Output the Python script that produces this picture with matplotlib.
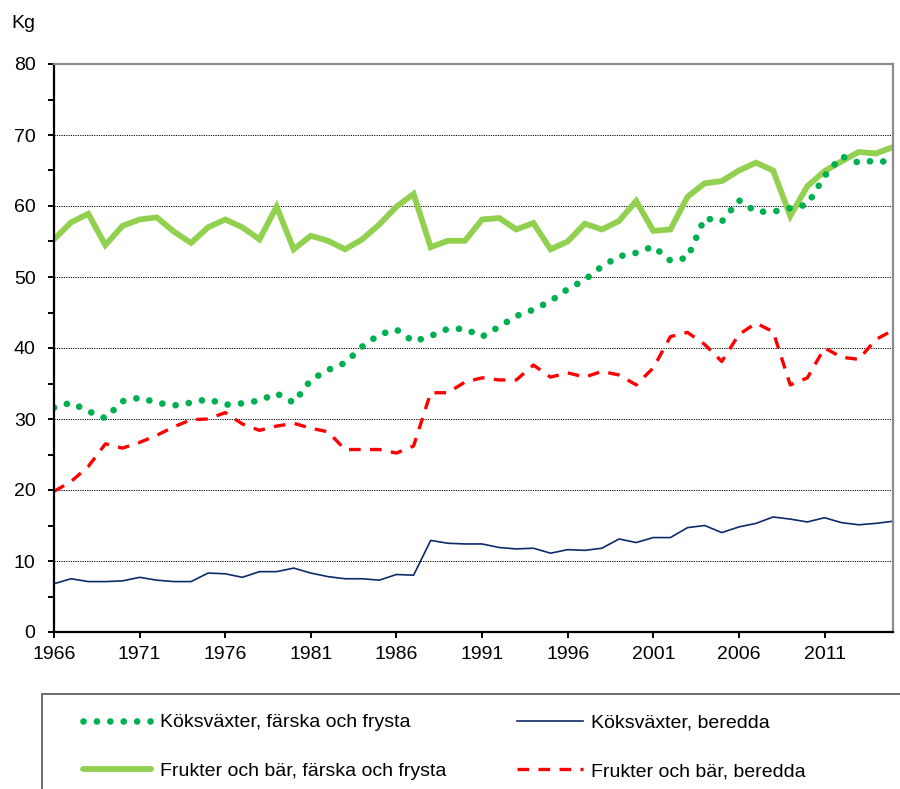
import matplotlib.pyplot as plt
import numpy as np
from matplotlib.patches import Rectangle
from matplotlib.ticker import MultipleLocator

plt.rcParams['font.family'] = ['Liberation Sans', 'DejaVu Sans']

years = np.arange(1966, 2016)

# Köksväxter, färska och frysta
kok_fresh = [31.6, 32.3, 31.1, 30.1, 32.5, 33.0, 32.3, 31.9, 32.3, 32.8,
             32.0, 32.2, 32.6, 33.6, 32.3, 35.5, 36.9, 37.9, 40.2, 41.9,
             42.6, 40.9, 41.7, 42.7, 42.7, 41.6, 43.0, 44.5, 45.4, 46.6,
             48.3, 49.6, 51.5, 52.9, 53.4, 54.3, 52.3, 52.7, 58.3, 57.8,
             60.8, 59.2, 59.2, 59.7, 60.2, 64.2, 67.0, 66.1, 66.4, 66.1]

# Köksväxter, beredda
kok_prep = [6.8, 7.5, 7.1, 7.1, 7.2, 7.7, 7.3, 7.1, 7.1, 8.3,
            8.2, 7.7, 8.5, 8.5, 9.0, 8.3, 7.8, 7.5, 7.5, 7.3,
            8.1, 8.0, 12.9, 12.5, 12.4, 12.4, 11.9, 11.7, 11.8, 11.1,
            11.6, 11.5, 11.8, 13.1, 12.6, 13.3, 13.3, 14.7, 15.0, 14.0,
            14.8, 15.3, 16.2, 15.9, 15.5, 16.1, 15.4, 15.1, 15.3, 15.6]

# Frukter och bär, färska och frysta
fruit_fresh = [55.3, 57.7, 58.9, 54.5, 57.2, 58.1, 58.4, 56.4, 54.8, 57.0,
               58.1, 57.0, 55.3, 59.9, 53.9, 55.8, 55.1, 53.9, 55.3, 57.4,
               59.9, 61.7, 54.2, 55.1, 55.1, 58.1, 58.3, 56.7, 57.6, 53.9,
               55.0, 57.5, 56.7, 57.9, 60.7, 56.5, 56.7, 61.3, 63.2, 63.5,
               65.0, 66.1, 65.0, 58.6, 62.8, 64.9, 66.3, 67.6, 67.4, 68.3]

# Frukter och bär, beredda
fruit_prep = [19.8, 21.2, 23.3, 26.5, 25.9, 26.7, 27.7, 28.9, 29.9, 30.0,
              30.9, 29.3, 28.4, 29.0, 29.4, 28.7, 28.2, 25.7, 25.7, 25.7,
              25.2, 26.2, 33.7, 33.7, 35.2, 35.8, 35.5, 35.5, 37.6, 35.9,
              36.5, 35.9, 36.7, 36.2, 34.8, 37.2, 41.6, 42.2, 40.5, 38.1,
              41.9, 43.5, 42.3, 34.8, 35.8, 40.0, 38.7, 38.4, 41.2, 42.5]

labels = ['Köksväxter, färska och frysta', 'Köksväxter, beredda',
          'Frukter och bär, färska och frysta', 'Frukter och bär, beredda']

fig = plt.figure(figsize=(9, 7.89), dpi=100)
ax = fig.add_axes([54/900, 1-632/789, (893-54)/900, (632-64)/789])

l_fruit, = ax.plot(years, fruit_fresh, color='#92D050', lw=4.2,
                   solid_joinstyle='miter', solid_capstyle='round', label=labels[2])
l_kok, = ax.plot(years, kok_fresh, color='#00B050', lw=4.8,
                 linestyle=(0, (0.01, 2.0)), dash_capstyle='round', label=labels[0])
l_fprep, = ax.plot(years, fruit_prep, color='#FF0000', lw=2.4,
                   linestyle=(0, (3.5, 2.8)), label=labels[3])
l_kprep, = ax.plot(years, kok_prep, color='#0D2A6B', lw=1.2, label=labels[1])

ax.set_xlim(1966, 2015)
ax.set_ylim(0, 80)
ax.set_xticks(np.arange(1966, 2015, 5))
ax.yaxis.set_major_locator(MultipleLocator(10))
ax.yaxis.set_minor_locator(MultipleLocator(5))
ax.grid(axis='y', which='major', color='black', linestyle=(0, (1.2, 1.2)), lw=0.7)

for s in ['left', 'bottom']:
    ax.spines[s].set_color('black')
    ax.spines[s].set_linewidth(1.6)
for s in ['top', 'right']:
    ax.spines[s].set_color('#8c8c8c')
    ax.spines[s].set_linewidth(1.6)

ax.tick_params(axis='both', which='both', direction='out', width=1.4,
               labelsize=14, colors='black', length=4.3)
ax.tick_params(axis='x', which='major', pad=6)
ax.tick_params(axis='y', which='major', pad=9)

fig.text(11/900, 1-23/789, 'Kg', fontsize=14, va='center', ha='left')

# legend frame
fig.patches.append(Rectangle((42/900, -0.02), 0.99, (789-694)/789 + 0.02,
                             transform=fig.transFigure, fill=False,
                             edgecolor='#555555', lw=1.2))

leg1 = fig.legend([l_kok, l_fruit], [labels[0], labels[2]],
                  loc='upper left', bbox_to_anchor=(73/900, 1-704/789),
                  frameon=False, fontsize=14, handlelength=3.5, borderpad=0,
                  handletextpad=0.45, labelspacing=1.6)
leg2 = fig.legend([l_kprep, l_fprep], [labels[1], labels[3]],
                  loc='upper left', bbox_to_anchor=(507/900, 1-704/789),
                  frameon=False, fontsize=14, handlelength=3.4, borderpad=0,
                  handletextpad=0.4, labelspacing=1.6)

fig.savefig('out.png', dpi=100)
